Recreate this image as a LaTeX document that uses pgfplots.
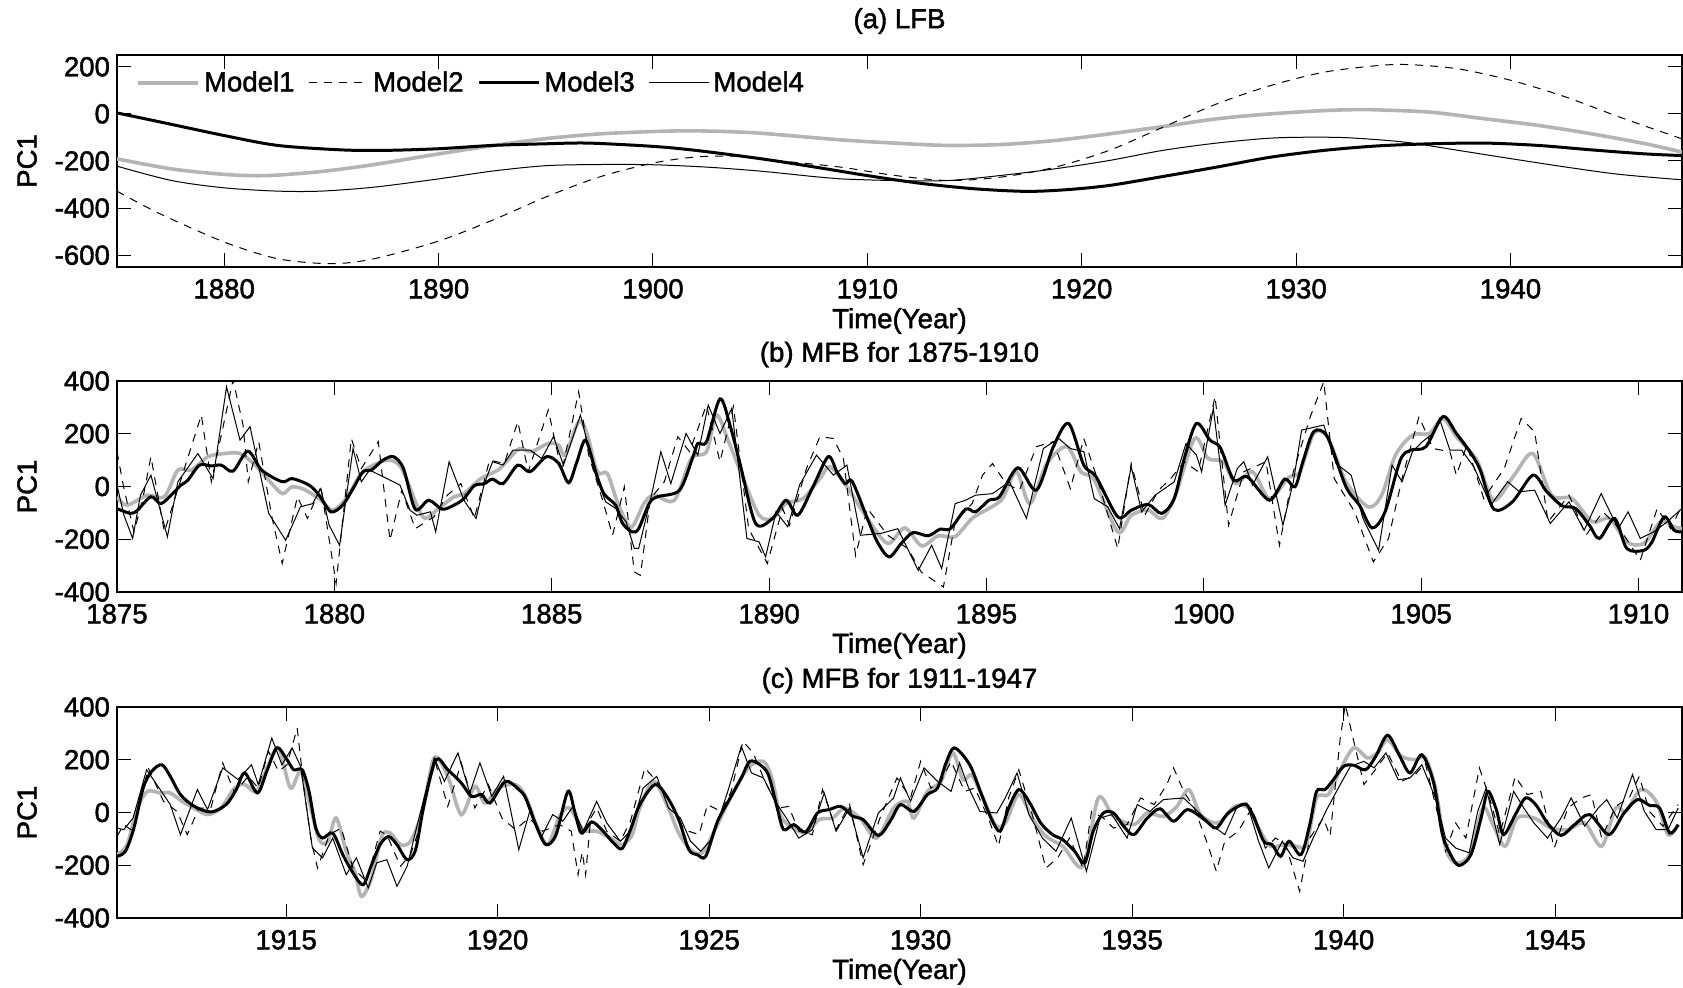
\documentclass[border=0pt]{standalone}
\usepackage{fontspec}
\setmainfont{Liberation Sans}[BoldFont={Liberation Sans}, BoldFeatures={FakeBold=1.6}]
\usepackage{pgfplots}
\pgfplotsset{compat=1.18}
\definecolor{mgray}{RGB}{180,180,180}
\newcommand{\tf}{\fontsize{13.8}{16}\selectfont\bfseries}
\pgfplotsset{
  panel/.style={
    scale only axis, width=782.5pt, height=105.5pt,
    no markers,
    axis line style={line width=0.9pt},
    tick style={line width=0.5pt, black},
    major tick length=7pt,
    tick align=inside,
    xtick pos=both, ytick pos=both,
    /pgf/number format/assume math mode=true,
    /pgf/number format/1000 sep={},
    every tick label/.append style={font=\tf},
    xticklabel style={yshift=-2.5pt},
    xlabel={Time(Year)}, ylabel={PC1},
    every axis x label/.style={at={(axis description cs:0.5,-0.255)}, anchor=center, font=\tf},
    every axis y label/.style={at={(axis description cs:-0.0575,0.5)}, rotate=90, anchor=center, font=\tf},
    every axis title/.style={at={(axis description cs:0.5,1.125)}, anchor=center, font=\tf},
  },
  m1/.style={color=mgray, line width=1.8pt, smooth, tension=0.5},
  m2/.style={color=black, line width=0.5pt, dash pattern=on 4pt off 3.5pt},
  m3/.style={color=black, line width=1.5pt, smooth, tension=0.5},
  m4/.style={color=black, line width=0.5pt},
}
\begin{document}
\begin{tikzpicture}
\path[use as bounding box] (0,0) rectangle (841.5pt,-494pt);

% ---------------- (a) ----------------
\begin{axis}[panel, at={(58.5pt,-27.5pt)}, anchor=north west, height=106pt,
  xmin=1875, xmax=1948, ymin=-650, ymax=250,
  xtick={1880,1890,...,1940}, ytick={-600,-400,-200,0,200},
  title={(a) LFB},
  every axis title/.style={at={(axis description cs:0.5,1.16)}, anchor=center, font=\tf},
  every axis x label/.style={at={(axis description cs:0.5,-0.255)}, anchor=center, font=\tf},
  legend columns=4,
  legend style={draw=none, fill=none, at={(axis description cs:0,1)}, anchor=north west,
    xshift=9.5pt, yshift=-7pt, inner sep=0pt, font=\tf,
    nodes={inner sep=1pt, inner xsep=0.8pt},
    /tikz/every odd column/.append style={column sep=1.2pt},
    /tikz/every even column/.append style={column sep=6pt}},
  legend image code/.code={\draw[#1] (0pt,0pt) -- (30pt,0pt);},
]
\addplot[m1] coordinates {(1875,-191) (1877.5,-233) (1880,-257) (1882,-262) (1884.5,-245) (1887,-215) (1890,-170) (1892.5,-135) (1895,-105) (1897.5,-85) (1900,-75) (1901.5,-72) (1903,-74) (1905,-82) (1908.7,-110) (1911.25,-124) (1913.76,-134) (1916.27,-130) (1918.77,-113) (1921.28,-85) (1923.78,-54) (1926.29,-21) (1928.8,0) (1931.3,14) (1932.8,18) (1933.8,17) (1936.3,7) (1938.8,-21) (1941.3,-49) (1943.8,-85) (1946.3,-127) (1948,-162)};
\addlegendentry{Model1}
\addplot[m2, smooth] coordinates {(1875,-328) (1877,-424) (1880,-544) (1882.5,-615) (1885,-636) (1887,-615) (1890,-540) (1892.5,-452) (1895,-353) (1897.5,-268) (1900,-209) (1902,-183) (1904,-180) (1906,-200) (1908.75,-226) (1911.25,-261) (1913.76,-283) (1916.27,-268) (1918.77,-226) (1921.28,-155) (1923.78,-57) (1926.29,42) (1928.8,120) (1931.3,177) (1933.8,205) (1935.3,209) (1937.57,191) (1940.08,141) (1942.6,71) (1945.1,-14) (1948,-106)};
\addlegendentry{Model2}
\addplot[m3] coordinates {(1875,4) (1877.05,-35) (1880,-92) (1882.5,-134) (1885.5,-153) (1887.5,-155) (1890,-148) (1892.5,-134) (1895,-127) (1897,-124) (1900,-138) (1902,-155) (1905,-190) (1907.5,-225) (1910,-262) (1912.5,-295) (1915,-318) (1917.4,-329) (1919.27,-322) (1921.28,-304) (1923.78,-266) (1926.29,-226) (1928.8,-184) (1931.3,-155) (1933.8,-136) (1936.3,-127) (1938.8,-124) (1941.3,-134) (1943.8,-153) (1946.3,-170) (1948,-177)};
\addlegendentry{Model3}
\addplot[m4, smooth] coordinates {(1875,-222) (1877.55,-283) (1880,-314) (1882.5,-328) (1884.5,-328) (1887,-311) (1890,-276) (1892.5,-243) (1895,-220) (1897.5,-215) (1900,-216) (1902.5,-226) (1905,-243) (1907.7,-268) (1908.75,-276) (1911.25,-283) (1913.76,-283) (1916.27,-261) (1918.77,-233) (1921.28,-198) (1923.78,-155) (1926.29,-124) (1928.8,-103) (1930.8,-99) (1932.55,-102) (1935.06,-120) (1937.57,-155) (1940.08,-191) (1942.6,-226) (1945.1,-257) (1948,-280)};
\addlegendentry{Model4}
\end{axis}

% ---------------- (b) ----------------
\begin{axis}[panel, at={(58.5pt,-190.5pt)}, anchor=north west,
  xmin=1875, xmax=1911, ymin=-400, ymax=400,
  xtick={1875,1880,...,1910}, ytick={-400,-200,0,200,400},
  title={(b) MFB for 1875-1910},
]
\addplot[m1] coordinates {(1875.00,-39) (1875.23,-71) (1875.70,-33) (1876.09,-39) (1876.40,62) (1876.71,62) (1877.09,113) (1877.48,125) (1877.83,125) (1878.18,81) (1878.49,24) (1878.80,-27) (1879.03,-1) (1879.34,-14) (1879.69,-52) (1879.96,-90) (1880.27,-46) (1880.62,49) (1880.97,87) (1881.28,100) (1881.55,68) (1881.90,-71) (1882.09,-121) (1882.40,-83) (1882.75,-39) (1882.98,-27) (1883.37,30) (1883.76,62) (1883.99,100) (1884.26,144) (1884.53,132) (1884.92,163) (1885.16,157) (1885.31,119) (1885.62,246) (1885.81,201) (1886.05,56) (1886.28,49) (1886.51,-58) (1886.82,-155) (1887.12,-65) (1887.35,-33) (1887.82,-52) (1888.21,106) (1888.56,132) (1888.79,271) (1889.07,170) (1889.42,24) (1889.77,-109) (1890.08,-121) (1890.39,-65) (1890.78,-46) (1891.17,30) (1891.40,75) (1891.79,-1) (1892.26,-121) (1892.73,-216) (1893.12,-157) (1893.51,-225) (1893.89,-187) (1894.28,-190) (1894.67,-121) (1895.06,-83) (1895.37,-46) (1895.69,56) (1896.00,-65) (1896.39,87) (1896.85,151) (1897.17,56) (1897.48,24) (1898.02,-172) (1898.33,-109) (1898.72,-90) (1899.05,-121) (1899.36,-27) (1899.79,182) (1900.10,106) (1900.45,94) (1900.73,11) (1901.12,56) (1901.51,-46) (1901.94,33) (1902.21,56) (1902.53,201) (1902.84,189) (1903.27,18) (1903.78,-77) (1904.09,-33) (1904.41,119) (1904.80,195) (1905.19,201) (1905.50,258) (1905.81,189) (1906.28,100) (1906.67,-52) (1907.14,43) (1907.57,125) (1908.00,-33) (1908.47,-46) (1908.94,-134) (1909.33,-121) (1909.73,-210) (1910.12,-216) (1910.51,-134) (1910.82,-153) (1911.00,-160)};
\addplot[m2] coordinates {(1875.00,132) (1875.16,-8) (1875.39,-172) (1875.58,-58) (1875.78,113) (1876.09,-172) (1876.55,68) (1876.94,271) (1877.17,18) (1877.67,404) (1877.90,233) (1878.02,18) (1878.26,170) (1878.57,-121) (1878.80,-292) (1879.15,-39) (1879.38,-121) (1879.69,-1) (1880.04,-368) (1880.39,182) (1880.62,68) (1881.01,170) (1881.28,-204) (1881.55,-14) (1881.86,-160) (1882.29,-115) (1882.60,-33) (1882.91,11) (1883.22,-121) (1883.57,100) (1883.91,87) (1884.22,246) (1884.46,56) (1884.92,290) (1885.23,56) (1885.62,359) (1885.85,119) (1886.16,-46) (1886.40,-185) (1886.67,-1) (1886.90,-324) (1887.04,-337) (1887.27,-46) (1887.59,18) (1887.90,189) (1888.17,132) (1888.56,309) (1888.87,94) (1889.18,303) (1889.53,-160) (1889.96,-292) (1890.31,-83) (1890.47,-147) (1890.86,68) (1891.17,189) (1891.48,182) (1891.71,106) (1891.99,-261) (1892.26,-83) (1892.73,-185) (1893.19,-235) (1893.50,-324) (1894.01,-381) (1894.28,-134) (1894.67,-65) (1894.91,43) (1895.14,87) (1895.45,11) (1895.76,-14) (1896.15,151) (1896.54,170) (1896.93,-8) (1897.24,182) (1897.55,30) (1898.02,-235) (1898.33,87) (1898.64,-109) (1898.96,-14) (1899.24,30) (1899.55,94) (1899.87,56) (1900.26,341) (1900.57,-147) (1900.92,56) (1901.43,94) (1901.74,-223) (1902.06,56) (1902.45,265) (1902.76,397) (1903.00,30) (1903.47,-96) (1903.90,-286) (1904.25,-197) (1904.56,30) (1904.95,265) (1905.27,144) (1905.66,132) (1905.81,43) (1906.05,157) (1906.44,-46) (1906.91,68) (1907.30,258) (1907.61,208) (1907.92,-134) (1908.40,-33) (1908.79,-185) (1909.18,-96) (1909.57,-160) (1910.04,-280) (1910.43,-83) (1910.74,-160) (1911.00,-71)};
\addplot[m3] coordinates {(1875.00,-84) (1875.31,-102) (1875.47,-90) (1875.78,-39) (1876.01,-65) (1876.28,-27) (1876.47,5) (1876.63,24) (1876.90,81) (1877.17,78) (1877.40,81) (1877.67,58) (1878.01,134) (1878.33,62) (1878.80,18) (1879.03,30) (1879.42,5) (1879.65,-33) (1879.92,-96) (1880.19,-71) (1880.43,-8) (1880.66,56) (1880.85,62) (1881.12,100) (1881.36,113) (1881.59,68) (1881.86,-86) (1882.17,-52) (1882.48,-86) (1882.75,-71) (1882.98,-46) (1883.22,3) (1883.45,11) (1883.64,28) (1883.88,11) (1884.22,81) (1884.50,56) (1884.88,113) (1885.16,87) (1885.39,14) (1885.58,94) (1885.78,176) (1886.01,56) (1886.20,-27) (1886.47,-71) (1886.63,-140) (1886.85,-172) (1887.00,-160) (1887.24,-65) (1887.43,-39) (1887.94,-14) (1888.25,113) (1888.36,163) (1888.56,170) (1888.87,332) (1889.10,233) (1889.34,81) (1889.69,-140) (1890.08,-121) (1890.39,-52) (1890.66,-109) (1891.01,-1) (1891.36,113) (1891.56,56) (1891.75,11) (1891.91,20) (1892.26,-121) (1892.49,-210) (1892.76,-267) (1893.04,-216) (1893.31,-175) (1893.66,-187) (1893.93,-162) (1894.17,-160) (1894.52,-86) (1894.75,-96) (1895.06,-52) (1895.30,-39) (1895.72,71) (1896.15,-14) (1896.54,151) (1896.89,239) (1897.24,81) (1897.52,37) (1898.02,-115) (1898.33,-90) (1898.72,-68) (1899.03,-102) (1899.32,-46) (1899.55,106) (1899.83,239) (1900.14,176) (1900.38,147) (1900.69,24) (1901.00,37) (1901.51,-52) (1901.86,28) (1902.10,-1) (1902.29,100) (1902.53,208) (1902.84,189) (1903.27,-1) (1903.58,-71) (1903.87,-157) (1904.17,-96) (1904.52,100) (1904.76,138) (1905.11,151) (1905.50,265) (1905.81,201) (1906.12,132) (1906.36,62) (1906.67,-86) (1907.10,-58) (1907.57,43) (1907.89,-20) (1908.24,-73) (1908.55,-83) (1908.87,-147) (1909.10,-197) (1909.45,-121) (1909.73,-235) (1910.12,-242) (1910.31,-210) (1910.59,-115) (1910.82,-166) (1911.00,-172)};
\addplot[m4] coordinates {(1875.00,5) (1875.16,-109) (1875.36,-197) (1875.54,-33) (1875.78,43) (1876.16,-191) (1876.40,18) (1876.86,125) (1877.21,30) (1877.52,378) (1877.83,176) (1878.06,227) (1878.49,-102) (1878.88,-204) (1879.22,-77) (1879.50,-65) (1879.69,-8) (1879.88,-147) (1880.12,-223) (1880.43,144) (1880.62,18) (1880.81,62) (1881.05,43) (1881.51,5) (1881.74,-90) (1881.90,-109) (1882.21,-96) (1882.33,-172) (1882.64,94) (1882.98,-52) (1883.26,-121) (1883.45,11) (1883.64,94) (1883.88,81) (1884.11,138) (1884.50,138) (1884.77,106) (1885.04,189) (1885.27,81) (1885.66,271) (1886.01,43) (1886.24,-58) (1886.47,-83) (1886.71,-134) (1886.90,-235) (1887.00,-235) (1887.27,-52) (1887.51,132) (1887.74,11) (1888.09,201) (1888.36,119) (1888.60,309) (1888.87,201) (1889.14,296) (1889.49,-197) (1889.77,-210) (1889.92,-267) (1890.16,-96) (1890.43,-153) (1890.70,5) (1891.09,119) (1891.48,43) (1891.79,81) (1892.10,-185) (1892.57,-178) (1892.96,-160) (1893.43,-318) (1893.74,-223) (1893.97,-311) (1894.28,-65) (1894.52,-52) (1894.75,-33) (1895.14,-27) (1895.53,18) (1895.92,-121) (1896.31,144) (1896.66,182) (1896.93,144) (1897.24,132) (1897.48,-46) (1897.79,-77) (1898.06,-160) (1898.33,75) (1898.57,-96) (1898.88,-33) (1899.32,18) (1899.59,163) (1899.83,119) (1899.95,56) (1900.22,296) (1900.49,-71) (1900.77,68) (1900.92,94) (1901.12,5) (1901.47,113) (1901.82,-147) (1902.06,18) (1902.25,214) (1902.76,233) (1903.04,87) (1903.39,43) (1903.66,-121) (1904.02,-242) (1904.33,81) (1904.56,18) (1904.80,132) (1905.03,170) (1905.27,201) (1905.42,258) (1905.66,138) (1905.93,138) (1906.21,75) (1906.60,-71) (1906.99,18) (1907.26,-20) (1907.61,-14) (1907.97,-140) (1908.40,-58) (1908.75,-166) (1909.14,-27) (1909.53,-160) (1909.76,-96) (1910.04,-197) (1910.35,-172) (1910.66,-134) (1911.00,-83)};
\end{axis}

% ---------------- (c) ----------------
\begin{axis}[panel, at={(58.5pt,-353.5pt)}, anchor=north west,
  xmin=1911, xmax=1948, ymin=-400, ymax=400,
  xtick={1915,1920,...,1945}, ytick={-400,-200,0,200,400},
  title={(c) MFB for 1911-1947},
]
\addplot[m1] coordinates {(1911.00,-160) (1911.24,-122) (1911.48,17) (1911.72,80) (1912.02,74) (1912.26,74) (1912.54,42) (1912.82,17) (1913.14,-8) (1913.46,17) (1913.78,93) (1914.02,106) (1914.30,80) (1914.58,181) (1914.82,245) (1915.10,93) (1915.34,156) (1915.54,42) (1915.78,-103) (1915.98,-110) (1916.18,-21) (1916.42,-147) (1916.62,-223) (1916.78,-318) (1917.02,-248) (1917.26,-90) (1917.46,-78) (1917.70,-122) (1917.94,-109) (1918.22,4) (1918.50,207) (1918.82,137) (1919.14,-8) (1919.46,99) (1919.70,36) (1920.02,93) (1920.42,106) (1920.66,61) (1920.90,-40) (1921.18,-122) (1921.46,-15) (1921.70,17) (1922.02,-65) (1922.34,-71) (1922.66,-97) (1922.94,-122) (1923.18,-84) (1923.36,17) (1923.68,118) (1924.00,30) (1924.28,-78) (1924.56,-141) (1924.84,-153) (1925.12,-71) (1925.52,61) (1925.92,169) (1926.28,194) (1926.48,131) (1926.68,-8) (1926.92,-52) (1927.28,-78) (1927.60,-27) (1927.92,-21) (1928.20,17) (1928.56,-21) (1928.96,-97) (1929.36,17) (1929.68,42) (1929.84,-21) (1930.16,80) (1930.48,118) (1930.76,226) (1931.00,124) (1931.20,143) (1931.44,68) (1931.76,-46) (1932.00,-40) (1932.32,68) (1932.64,-21) (1932.96,-90) (1933.36,-128) (1933.84,-204) (1934.20,55) (1934.56,-15) (1935.04,-46) (1935.36,-2) (1935.74,-15) (1936.06,23) (1936.34,87) (1936.62,-8) (1937.03,-40) (1937.43,23) (1937.75,17) (1937.99,-59) (1938.27,-128) (1938.59,-122) (1938.88,-128) (1939.12,-122) (1939.36,55) (1939.64,68) (1939.92,162) (1940.24,245) (1940.56,207) (1940.80,226) (1941.04,276) (1941.37,213) (1941.69,200) (1941.93,207) (1942.17,93) (1942.41,-135) (1942.65,-191) (1942.97,-160) (1943.29,17) (1943.53,-46) (1943.82,-128) (1944.10,-21) (1944.50,-21) (1944.90,-59) (1945.30,-65) (1945.70,-40) (1946.10,-128) (1946.43,17) (1946.67,4) (1947.03,87) (1947.39,42) (1947.67,-84) (1947.91,-46)};
\addplot[m2] coordinates {(1911.00,-90) (1911.16,-46) (1911.38,-71) (1911.74,169) (1912.10,42) (1912.42,4) (1912.66,-84) (1912.94,17) (1913.22,17) (1913.50,188) (1913.78,74) (1914.10,137) (1914.34,93) (1914.58,232) (1914.82,156) (1915.02,181) (1915.26,320) (1915.42,93) (1915.58,-97) (1915.74,-211) (1916.02,-84) (1916.30,-59) (1916.58,-211) (1916.90,-261) (1917.22,-71) (1917.38,-84) (1917.70,-204) (1917.94,-160) (1918.18,-46) (1918.50,207) (1918.82,23) (1919.14,188) (1919.46,17) (1919.78,106) (1920.10,-21) (1920.42,-65) (1920.74,-21) (1921.06,-71) (1921.46,-46) (1921.74,-71) (1921.90,-236) (1922.00,-150) (1922.08,-236) (1922.20,-21) (1922.34,17) (1922.58,-71) (1922.90,-109) (1923.14,-33) (1923.48,169) (1923.76,118) (1924.16,17) (1924.40,-65) (1924.76,-84) (1924.96,30) (1925.28,4) (1925.52,80) (1925.80,270) (1926.04,226) (1926.32,118) (1926.64,17) (1926.88,23) (1927.12,-71) (1927.44,-84) (1927.68,87) (1928.00,-65) (1928.32,30) (1928.64,-198) (1929.04,-21) (1929.44,131) (1929.76,55) (1930.00,194) (1930.24,93) (1930.48,118) (1930.72,194) (1931.04,80) (1931.28,93) (1931.60,-21) (1931.84,-128) (1932.08,55) (1932.32,162) (1932.64,-8) (1932.96,-211) (1933.24,-172) (1933.52,-97) (1933.84,-211) (1934.04,4) (1934.32,-21) (1934.56,-59) (1934.88,-46) (1935.20,55) (1935.52,30) (1935.82,106) (1935.98,169) (1936.22,80) (1936.47,17) (1936.79,-122) (1936.99,-223) (1937.19,-109) (1937.51,-71) (1937.83,17) (1938.15,-135) (1938.39,-97) (1938.63,-122) (1938.96,-299) (1939.20,-97) (1939.52,-21) (1939.68,-90) (1939.92,282) (1940.04,409) (1940.24,270) (1940.48,106) (1940.72,156) (1941.04,226) (1941.37,118) (1941.69,143) (1941.93,188) (1942.21,4) (1942.41,-147) (1942.65,-40) (1942.89,-97) (1943.21,169) (1943.45,55) (1943.69,-84) (1944.06,137) (1944.34,68) (1944.66,80) (1944.98,-135) (1945.30,17) (1945.62,55) (1945.86,68) (1946.10,-97) (1946.43,23) (1946.75,55) (1946.99,137) (1947.23,4) (1947.55,-52) (1947.91,30)};
\addplot[m3] coordinates {(1911.00,-166) (1911.20,-147) (1911.40,-59) (1911.62,93) (1911.82,156) (1912.06,181) (1912.26,137) (1912.50,68) (1912.82,24) (1913.22,2) (1913.58,30) (1913.82,87) (1914.02,150) (1914.32,74) (1914.54,156) (1914.78,245) (1915.02,200) (1915.18,162) (1915.38,162) (1915.54,80) (1915.70,-59) (1915.86,-97) (1916.10,-78) (1916.34,-160) (1916.58,-229) (1916.82,-274) (1917.02,-198) (1917.22,-122) (1917.42,-91) (1917.62,-122) (1917.86,-179) (1918.06,-141) (1918.26,30) (1918.54,200) (1918.82,162) (1919.14,112) (1919.38,61) (1919.62,68) (1919.82,36) (1920.18,118) (1920.50,87) (1920.66,55) (1920.90,-46) (1921.14,-122) (1921.38,-84) (1921.66,80) (1921.82,4) (1921.98,-78) (1922.22,-36) (1922.46,-65) (1922.74,-116) (1922.94,-137) (1923.14,-65) (1923.36,30) (1923.72,106) (1924.00,61) (1924.28,-27) (1924.52,-141) (1924.72,-160) (1924.92,-166) (1925.20,-33) (1925.52,61) (1925.76,131) (1925.96,194) (1926.20,181) (1926.40,143) (1926.60,23) (1926.76,-65) (1927.00,-46) (1927.28,-74) (1927.56,-2) (1927.84,11) (1928.12,23) (1928.40,-15) (1928.64,-27) (1929.00,-87) (1929.28,-33) (1929.52,30) (1929.84,4) (1930.16,68) (1930.40,93) (1930.60,188) (1930.80,245) (1931.16,181) (1931.44,68) (1931.68,-27) (1931.88,-71) (1932.08,17) (1932.32,87) (1932.56,42) (1932.84,-40) (1933.12,-84) (1933.36,-103) (1933.64,-147) (1933.88,-191) (1934.08,-71) (1934.32,-2) (1934.56,-2) (1934.80,-52) (1935.04,-84) (1935.36,-21) (1935.66,14) (1935.98,-33) (1936.31,11) (1936.71,-27) (1936.99,-59) (1937.27,-2) (1937.67,32) (1937.87,-15) (1938.11,-109) (1938.31,-122) (1938.51,-166) (1938.71,-109) (1938.99,-160) (1939.20,-46) (1939.36,80) (1939.56,87) (1939.76,125) (1940.00,175) (1940.24,179) (1940.52,162) (1940.76,213) (1941.04,293) (1941.33,213) (1941.57,150) (1941.85,219) (1942.13,112) (1942.33,-78) (1942.53,-160) (1942.73,-201) (1943.01,-160) (1943.25,-21) (1943.41,80) (1943.61,11) (1943.78,-84) (1944.06,-8) (1944.30,55) (1944.54,30) (1944.82,-40) (1945.14,-87) (1945.46,-46) (1945.82,-8) (1946.27,-84) (1946.63,-2) (1946.95,49) (1947.23,27) (1947.47,17) (1947.71,-78) (1947.91,-46)};
\addplot[m4] coordinates {(1911.00,-59) (1911.16,-65) (1911.38,-21) (1911.70,162) (1912.02,87) (1912.26,30) (1912.50,-84) (1912.90,87) (1913.14,11) (1913.50,169) (1913.86,125) (1914.18,181) (1914.34,106) (1914.66,282) (1914.90,181) (1915.14,245) (1915.34,175) (1915.62,-135) (1915.86,-172) (1916.10,-97) (1916.42,-236) (1916.66,-172) (1916.94,-286) (1917.14,-191) (1917.38,-179) (1917.62,-280) (1917.86,-204) (1918.10,-46) (1918.50,207) (1918.74,118) (1919.06,226) (1919.34,74) (1919.58,188) (1919.86,61) (1920.14,137) (1920.50,-141) (1920.78,17) (1921.02,-97) (1921.30,-8) (1921.54,-33) (1921.78,23) (1922.02,-71) (1922.34,42) (1922.58,-40) (1922.90,-109) (1923.14,-71) (1923.44,93) (1923.76,137) (1924.04,17) (1924.32,-21) (1924.56,-109) (1924.80,-147) (1925.08,-97) (1925.44,80) (1925.76,251) (1926.00,150) (1926.28,131) (1926.56,42) (1926.80,-15) (1927.12,-97) (1927.44,-65) (1927.72,74) (1928.00,-71) (1928.32,17) (1928.64,-172) (1929.00,-2) (1929.36,55) (1929.52,131) (1929.76,42) (1930.08,169) (1930.40,118) (1930.72,80) (1930.92,188) (1931.12,99) (1931.40,4) (1931.80,-2) (1932.00,55) (1932.28,150) (1932.56,-8) (1932.88,-97) (1933.20,-147) (1933.56,-21) (1933.92,-223) (1934.24,-21) (1934.52,-8) (1934.88,-97) (1935.12,30) (1935.42,4) (1935.74,49) (1936.22,55) (1936.55,4) (1936.87,-46) (1937.19,-84) (1937.47,17) (1937.71,36) (1937.99,-109) (1938.23,-210) (1938.55,-109) (1938.80,-172) (1939.04,-185) (1939.28,-97) (1939.60,11) (1939.92,106) (1940.16,175) (1940.48,194) (1940.72,169) (1941.00,226) (1941.29,124) (1941.57,131) (1941.85,181) (1942.17,55) (1942.41,-97) (1942.65,-135) (1942.97,-153) (1943.17,4) (1943.37,93) (1943.69,-122) (1944.02,80) (1944.26,17) (1944.50,-40) (1944.82,-97) (1945.14,-21) (1945.38,55) (1945.70,-52) (1946.02,17) (1946.22,49) (1946.47,-21) (1946.83,144) (1947.11,4) (1947.39,-65) (1947.67,-65) (1947.91,17)};
\end{axis}
\end{tikzpicture}
\end{document}
